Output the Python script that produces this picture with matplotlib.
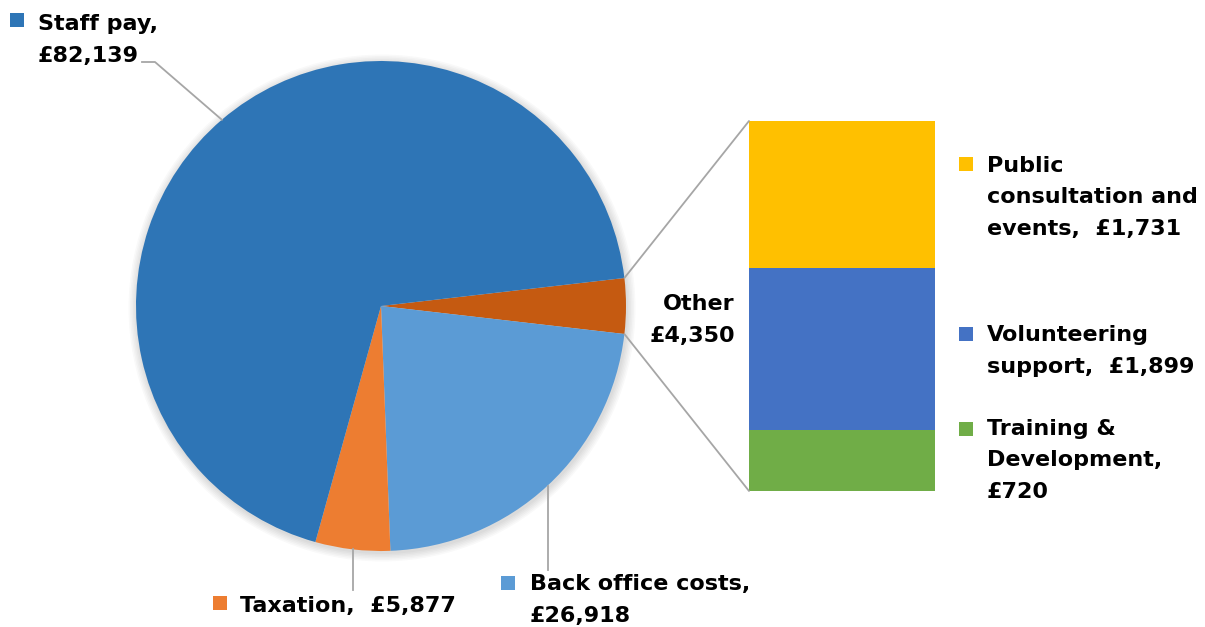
import numpy as np
import matplotlib
matplotlib.use("Agg")
import matplotlib.pyplot as plt
from matplotlib.patches import Rectangle, ConnectionPatch

# ---- data ----
pie_labels = ["Other", "Back office costs", "Taxation", "Staff pay"]
pie_values = [4350, 26918, 5877, 82139]
pie_colors = ["#C55A11", "#5B9BD5", "#ED7D31", "#2E75B6"]

bar_labels = ["Training & Development", "Volunteering support", "Public consultation and events"]
bar_values = [720, 1899, 1731]
bar_colors = ["#70AD47", "#4472C4", "#FFC000"]

FONT = dict(family="DejaVu Sans", fontweight="bold", fontsize=16, color="black")

W, H = 1205, 627
fig = plt.figure(figsize=(W / 100, H / 100), dpi=100)
ax = fig.add_axes([0, 0, 1, 1])

def P(x, y):
    return x, H - y

cx, cy = P(381, 306)
R = 245
total = sum(pie_values)
start = 360 * pie_values[0] / total / 2

# soft shadow
for i in range(6):
    ax.add_patch(plt.Circle((cx + 1, cy - 2), R + 1 + i * 1.5, color="black", alpha=0.025, lw=0, zorder=0))

wedges, _ = ax.pie(pie_values, colors=pie_colors, startangle=start, counterclock=False,
                   center=(cx, cy), radius=R, frame=True,
                   wedgeprops=dict(linewidth=0))
ax.set_xlim(0, W)
ax.set_ylim(0, H)
ax.set_aspect("equal")
ax.axis("off")

def mid(w):
    return (w.theta1 + w.theta2) / 2

def edge(theta_deg, r=R):
    t = np.deg2rad(theta_deg)
    return cx + r * np.cos(t), cy + r * np.sin(t)

# ---- bar of the "Other" slice ----
bx0, by0, bw, bh = 749, 491, 186, 370
bax = fig.add_axes([bx0 / W, (H - by0) / H, bw / W, bh / H])
bottom = 0
for v, c in zip(bar_values, bar_colors):
    bax.bar(0, v, bottom=bottom, width=1.0, color=c, linewidth=0)
    bottom += v
bax.set_xlim(-0.5, 0.5)
bax.set_ylim(0, sum(bar_values))
bax.axis("off")

LC = "#A6A6A6"
# connector lines
wo = wedges[0]
for ang, yv in [(wo.theta1, 0), (wo.theta2, sum(bar_values))]:
    con = ConnectionPatch(xyA=edge(ang), coordsA=ax.transData,
                          xyB=(-0.5, yv), coordsB=bax.transData,
                          color=LC, lw=1.3)
    fig.add_artist(con)

def square(x, y, c, s=14):
    X, Y = P(x, y + s)
    ax.add_patch(Rectangle((X, Y), s, s, color=c, lw=0))

def label(x, y, s, **kw):
    X, Y = P(x, y)
    ax.text(X, Y, s, va="baseline", linespacing=1.72, **FONT, **kw)

# Staff pay
square(10, 13, pie_colors[3])
label(38, 62, "Staff pay,\n£82,139")
sx, sy = edge(mid(wedges[3]))
ax.plot([P(142, 0)[0], P(155, 0)[0], sx], [P(0, 62)[1], P(0, 62)[1], sy], color=LC, lw=1.3)

# Taxation
square(213, 596, pie_colors[2])
label(240, 612, "Taxation,  £5,877")
tx, ty = edge(mid(wedges[2]))
ax.plot([tx, tx], [ty, P(0, 590)[1]], color=LC, lw=1.3)

# Back office
square(501, 576, pie_colors[1])
label(530, 622, "Back office costs,\n£26,918")
ox, oy = edge(mid(wedges[1]))
ax.plot([ox, ox], [oy, P(0, 570)[1]], color=LC, lw=1.3)

# Other
label(735, 342, "Other\n£4,350", ha="right")

# bar labels
square(959, 157, bar_colors[2])
label(987, 235, "Public\nconsultation and\nevents,  £1,731")
square(959, 327, bar_colors[1])
label(987, 373, "Volunteering\nsupport,  £1,899")
square(959, 422, bar_colors[0])
label(987, 498, "Training &\nDevelopment,\n£720")

fig.savefig("out.png", dpi=100)
